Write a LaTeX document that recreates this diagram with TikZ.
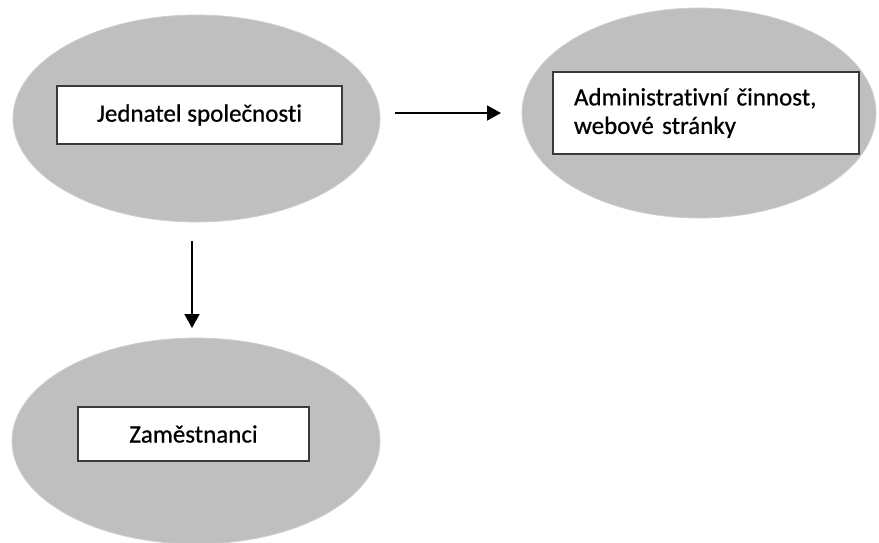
\documentclass[tikz,border=0pt]{standalone}
\usepackage{fontspec}
\setmainfont{Carlito}[Ligatures=NoCommon]
\newfontfamily\boxfont{Carlito}[Ligatures=NoCommon, FakeBold=0.6]
\usepackage{tikz}
\usetikzlibrary{arrows.meta, positioning, shapes.geometric}

\definecolor{ovalgray}{HTML}{BFBFBF}
\definecolor{boxline}{HTML}{3A3A3A}
\tikzset{
	oval/.style={ellipse, fill=ovalgray, draw=ovalgray!75, line width=0.8pt, inner sep=0pt},
	namebox/.style={rectangle, draw=boxline, line width=1.3pt, fill=white, inner sep=0pt, text=black, font=\boxfont\fontsize{25}{28.5}\selectfont},
	flow/.style={line width=2pt, -{Triangle[length=14pt, width=15pt]}}
}

\begin{document}
\begin{tikzpicture}[x=1pt, y=-1pt]
			% ovals, boxes and arrows:
			\useasboundingbox (0, 0) rectangle (879, 542);
			\node[oval, minimum width=367pt, minimum height=207pt](E1) at (196.5, 118.5){};
			\node[oval, minimum width=354pt, minimum height=210pt](E2) at (699, 113){};
			\node[oval, minimum width=368pt, minimum height=206pt](E3) at (196, 441){};
			\node[namebox, minimum width=285pt, minimum height=58pt](B1) at (199.5, 115){Jednatel společnosti};
			\node[namebox, minimum height=82pt, text width=264pt, inner xsep=21pt, align=left](B2) at (706, 113){Administrativní činnost,\\webové stránky};
			\node[namebox, minimum width=231pt, minimum height=54pt](B3) at (193.5, 434){Zaměstnanci};
			\coordinate (H0) at (395, 113);
			\coordinate (H1) at (501, 113);
			\coordinate (V0) at (192, 241);
			\coordinate (V1) at (192, 328);
			\draw[flow] (H0) -- (H1);
			\draw[flow] (V0) -- (V1);
		\end{tikzpicture}
\end{document}
